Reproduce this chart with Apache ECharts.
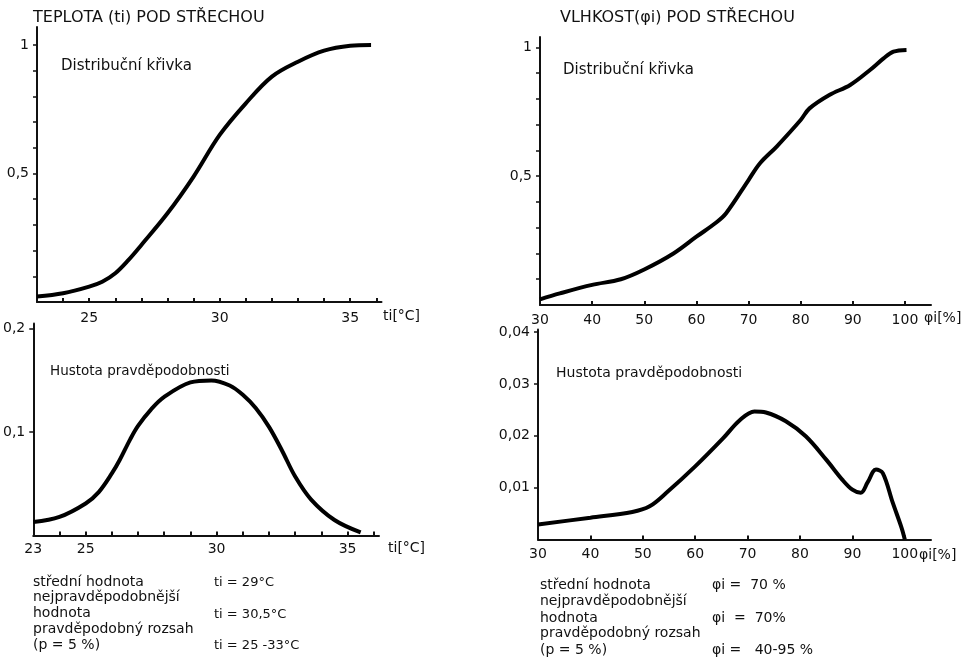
<!DOCTYPE html>
<html>
<head>
<meta charset="utf-8">
<script src="https://cdn.jsdelivr.net/npm/echarts@6/dist/echarts.min.js"></script>
<style>
html,body{margin:0;padding:0;background:#fff;}
#c{width:963px;height:658px;}
</style>
</head>
<body>
<div id="c"></div>
<script>
// ---- data ----
const tempCdfX = [23, 24, 25, 25.5, 26, 26.5, 27, 28, 29, 30, 31, 32, 33, 34, 35, 35.8];
const tempCdfY = [0.021, 0.034, 0.06, 0.079, 0.112, 0.163, 0.222, 0.345, 0.488, 0.65, 0.773, 0.877, 0.935, 0.978, 0.997, 1.0];

const tempPdfX = [23, 24, 25, 25.5, 26, 26.3, 26.7, 27, 27.5, 28, 29, 29.8, 30.5, 31, 31.5, 32, 32.5, 33, 33.6, 34.5, 35.5];
const tempPdfY = [0.013, 0.018, 0.031, 0.042, 0.06, 0.073, 0.093, 0.106, 0.122, 0.134, 0.148, 0.150, 0.145, 0.136, 0.123, 0.105, 0.082, 0.057, 0.035, 0.015, 0.003];

const humCdfX = [30, 33.8, 40, 45.5, 50, 55.6, 60, 63.8, 65.7, 70, 72.2, 75.4, 80, 81.7, 85.5, 89.5, 93.3, 95.9, 97.8, 100.3];
const humCdfY = [0.022, 0.045, 0.078, 0.1, 0.138, 0.2, 0.265, 0.32, 0.356, 0.485, 0.55, 0.615, 0.718, 0.763, 0.815, 0.854, 0.912, 0.957, 0.983, 0.99];

const humPdfX = [30, 40, 48, 51.3, 54.5, 60, 65.3, 68.5, 71.3, 73.5, 77.3, 81.1, 85, 88.1, 90, 91.6, 92.9, 94.5, 95.8, 97.7, 99.4, 100];
const humPdfY = [0.0029, 0.0042, 0.0053, 0.0064, 0.009, 0.0141, 0.0195, 0.023, 0.0247, 0.0245, 0.0228, 0.0199, 0.0154, 0.0115, 0.0096, 0.009, 0.011, 0.0135, 0.0128, 0.0071, 0.0022, 0];

// tick labels / tick positions
const tempTopLabels = [25, 30, 35];
const tempBotLabels = [23, 25, 30, 35];
const tempTicks = [24, 25, 26, 27, 28, 29, 30, 31, 32, 33, 34, 35, 36];
const cdfLabels = [0.5, 1];
const cdfTicks = [0.1, 0.2, 0.3, 0.4, 0.5, 0.6, 0.7, 0.8, 0.9, 1];
const tempPdfLabels = [0.1, 0.2];
const humLabels = [30, 40, 50, 60, 70, 80, 90, 100];
const humPdfLabels = [0.01, 0.02, 0.03, 0.04];

const FONT = "'DejaVu Sans', sans-serif";
const INK = '#111';

function pair(xs, ys) { return xs.map((x, i) => [x, ys[i]]); }
function comma(v) { return String(v).replace('.', ','); }

function xAxis(gi, min, max, labels, ticks, margin) {
  return {
    type: 'value', gridIndex: gi, min: min, max: max,
    splitLine: { show: false },
    axisLine: { show: true, lineStyle: { color: INK, width: 2 } },
    axisTick: { show: true, inside: true, length: 4, customValues: ticks, lineStyle: { color: INK, width: 2 } },
    axisLabel: { customValues: labels, margin: margin, color: INK, fontSize: 14, fontFamily: FONT, formatter: v => comma(v) }
  };
}
function yAxis(gi, min, max, labels, ticks) {
  return {
    type: 'value', gridIndex: gi, min: min, max: max,
    splitLine: { show: false },
    axisLine: { show: true, lineStyle: { color: INK, width: 2 } },
    axisTick: { show: true, inside: false, length: 4, customValues: ticks, lineStyle: { color: INK, width: 1.5 } },
    axisLabel: { customValues: labels, margin: 8, color: INK, fontSize: 14, fontFamily: FONT, formatter: v => comma(v) }
  };
}
function curve(i, data) {
  return {
    type: 'line', xAxisIndex: i, yAxisIndex: i, data: data,
    showSymbol: false, smooth: 0.35, silent: true,
    lineStyle: { color: '#000', width: 4 }
  };
}
function txt(x, y, s, size) {
  return { type: 'text', left: x, top: y, silent: true,
    style: { text: s, fill: INK, font: (size || 14) + 'px ' + FONT } };
}

const chart = echarts.init(document.getElementById('c'), null, { renderer: 'canvas' });
chart.setOption({
  backgroundColor: '#fff',
  animation: false,
  grid: [
    { left: 37, right: 581.5, top: 27, bottom: 356 },
    { left: 33, right: 584, top: 323.5, bottom: 122.5 },
    { left: 540, right: 32, top: 37, bottom: 353 },
    { left: 538, right: 32, top: 329.5, bottom: 118.5 }
  ],
  xAxis: [
    xAxis(0, 23, 36.2, tempTopLabels, tempTicks, 9),
    xAxis(1, 23, 36.2, tempBotLabels, tempTicks, 7),
    xAxis(2, 30, 105, humLabels, humLabels, 8),
    xAxis(3, 30, 105, humLabels, humLabels, 8)
  ],
  yAxis: [
    yAxis(0, 0, 1.07, cdfLabels, cdfTicks),
    yAxis(1, 0, 0.205, tempPdfLabels, tempPdfLabels),
    yAxis(2, 0, 1.04, cdfLabels, cdfTicks),
    yAxis(3, 0, 0.0405, humPdfLabels, humPdfLabels)
  ],
  series: [
    curve(0, pair(tempCdfX, tempCdfY)),
    curve(1, pair(tempPdfX, tempPdfY)),
    curve(2, pair(humCdfX, humCdfY)),
    curve(3, pair(humPdfX, humPdfY))
  ],
  graphic: [
    txt(33, 10, 'TEPLOTA (ti) POD STŘECHOU', 16),
    txt(560, 10, 'VLHKOST(φi) POD STŘECHOU', 16),
    txt(61, 59, 'Distribuční křivka', 15),
    txt(563, 63, 'Distribuční křivka', 15),
    txt(50, 364, 'Hustota pravděpodobnosti', 13.5),
    txt(556, 366, 'Hustota pravděpodobnosti', 14),
    txt(383, 309, 'ti[°C]', 14),
    txt(388, 541, 'ti[°C]', 14),
    txt(924, 311, 'φi[%]', 14),
    txt(919, 548, 'φi[%]', 14),
    // left summary
    txt(33, 575, 'střední hodnota', 14),
    txt(33, 590, 'nejpravděpodobnější', 14),
    txt(33, 606, 'hodnota', 14),
    txt(33, 622, 'pravděpodobný rozsah', 14),
    txt(33, 638, '(p = 5 %)', 14),
    txt(214, 576, 'ti = 29°C', 13),
    txt(214, 608, 'ti = 30,5°C', 13),
    txt(214, 639, 'ti = 25 -33°C', 13),
    // right summary
    txt(540, 578, 'střední hodnota', 14),
    txt(540, 594, 'nejpravděpodobnější', 14),
    txt(540, 611, 'hodnota', 14),
    txt(540, 626, 'pravděpodobný rozsah', 14),
    txt(540, 643, '(p = 5 %)', 14),
    txt(712, 578, 'φi =  70 %', 14),
    txt(712, 611, 'φi  =  70%', 14),
    txt(712, 643, 'φi =   40-95 %', 14)
  ]
});
</script>
</body>
</html>
